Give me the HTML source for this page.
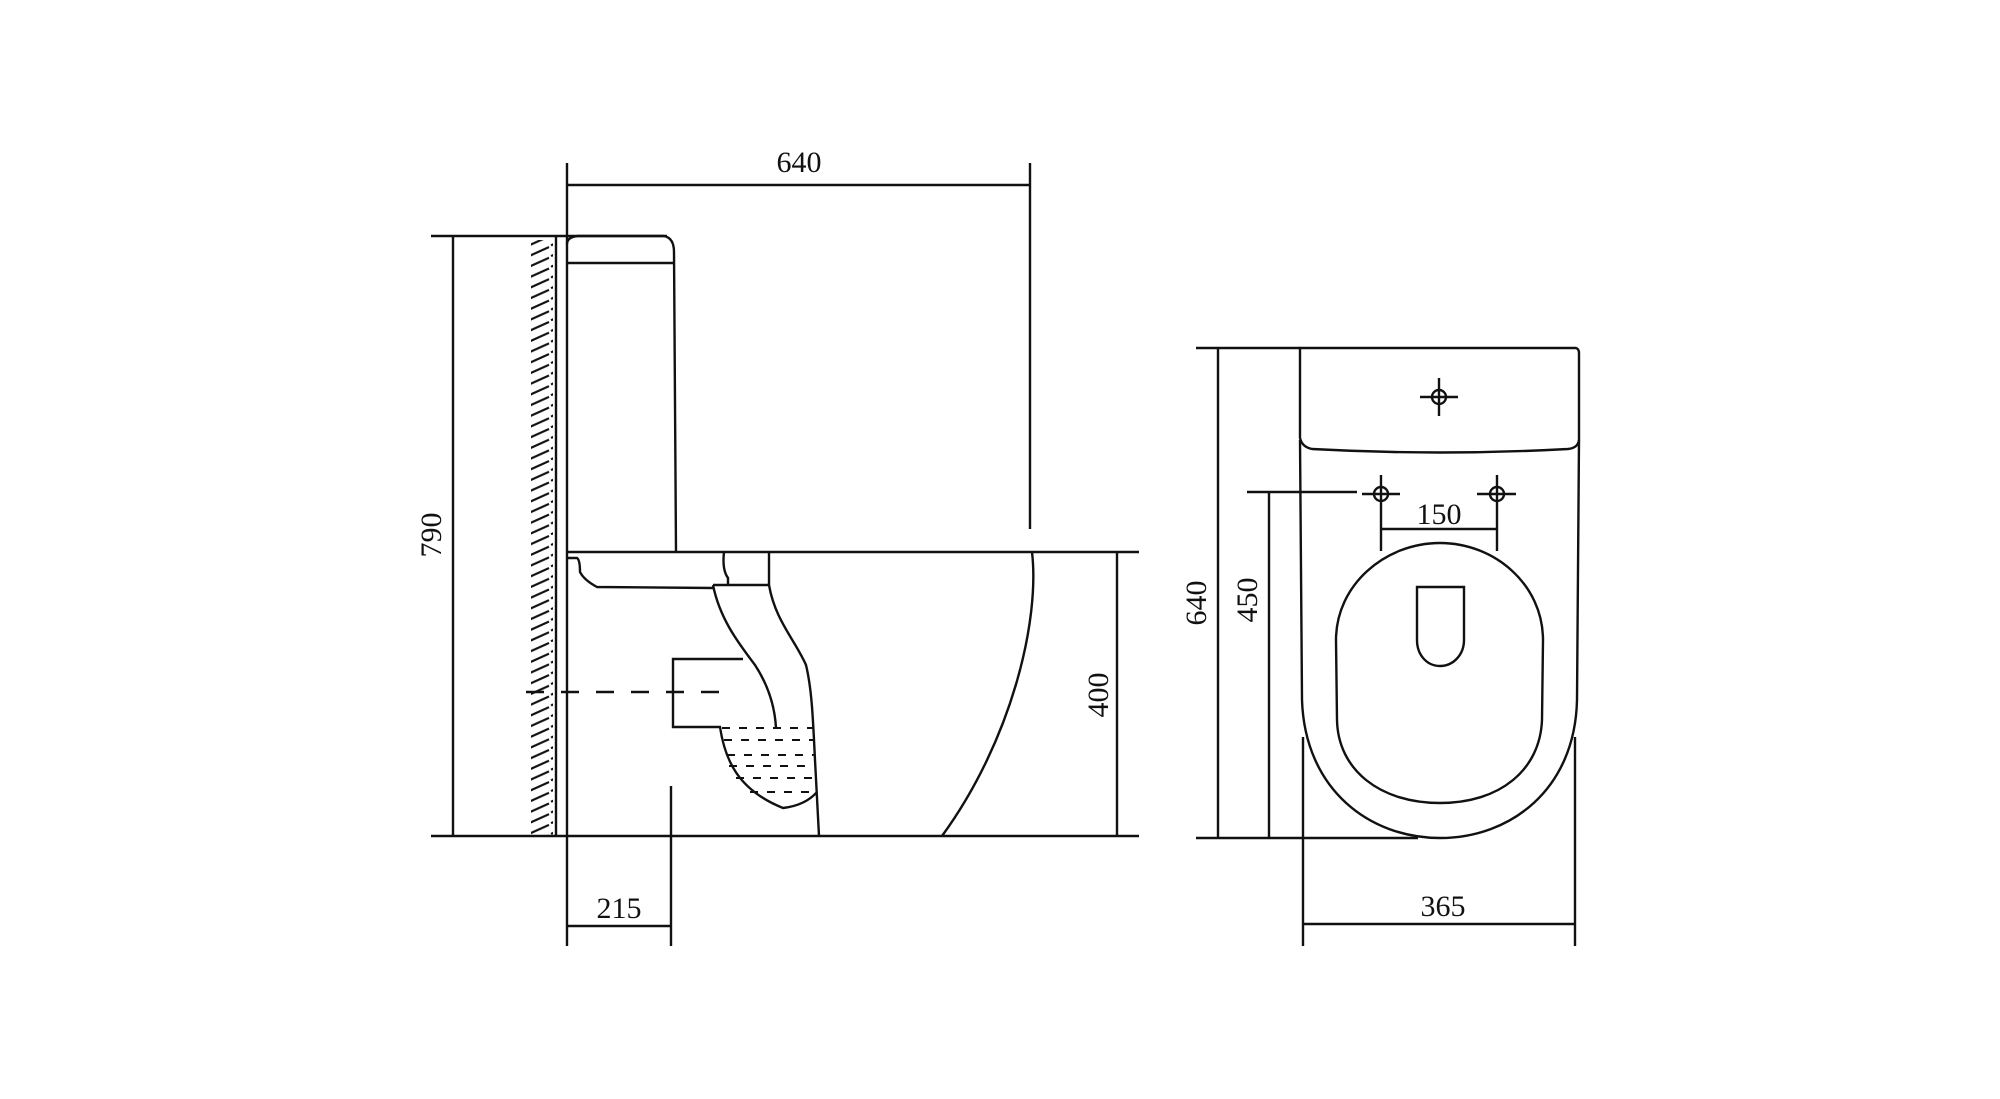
<!DOCTYPE html>
<html><head><meta charset="utf-8"><style>
html,body{margin:0;padding:0;background:#fff}
svg{display:block}
text{font-family:"Liberation Serif",serif;font-size:30px;fill:#111}
</style></head><body>
<svg width="2000" height="1099" viewBox="0 0 2000 1099" xmlns="http://www.w3.org/2000/svg">
<defs>
<pattern id="h" width="22" height="10.7" patternUnits="userSpaceOnUse">
<line x1="1" y1="10" x2="21" y2="1" stroke="#111" stroke-width="2.2"/>
</pattern>
</defs>
<g fill="none" stroke="#111" stroke-width="2.4">
<line x1="567" y1="163" x2="567" y2="946"/>
<line x1="567" y1="185" x2="1030" y2="185"/>
<line x1="1030" y1="163" x2="1030" y2="529"/>
<line x1="431" y1="236" x2="667" y2="236"/>
<line x1="453" y1="236" x2="453" y2="836"/>
<line x1="431" y1="836" x2="1139" y2="836"/>
<line x1="567" y1="552" x2="1139" y2="552"/>
<line x1="1117" y1="552" x2="1117" y2="836"/>
<line x1="671" y1="786" x2="671" y2="946"/>
<line x1="567" y1="926" x2="671" y2="926"/>
<rect x="531" y="240" width="22" height="596" fill="url(#h)" stroke="none"/>
<line x1="556" y1="236" x2="556" y2="836"/>
<path d="M567 244 Q567 237 578 236 L664 236 Q674 238 674 252 L676 552"/>
<line x1="567" y1="263" x2="674" y2="263"/>
<path d="M568 558 L577 558 Q580 560 580 572 Q584 580 597 587 L713 588"/>
<path d="M724 552 Q722 570 728 578 L728 586"/>
<line x1="713" y1="585" x2="769" y2="585"/>
<line x1="769" y1="552" x2="769" y2="585"/>
<path d="M713 585 C720 620 740 645 755 665 C770 688 775 710 776 728"/>
<path d="M769 585 C775 620 795 640 806 665 C812 690 813 720 815 760 L819 836"/>
<path d="M743 659 L673 659 L673 727 L720 727 C725 760 738 790 783 808 C800 806 810 800 817 792"/>
<line x1="526" y1="692" x2="724" y2="692" stroke-dasharray="18,17"/>
<g stroke-dasharray="8,9" stroke-width="2">
<line x1="722" y1="728" x2="814" y2="728"/>
<line x1="724" y1="740" x2="814" y2="740"/>
<line x1="727" y1="755" x2="814" y2="755"/>
<line x1="729" y1="766" x2="814" y2="766"/>
<line x1="736" y1="778" x2="816" y2="778"/>
<line x1="750" y1="792" x2="816" y2="792"/>
</g>
<path d="M1032 552 C1040 620 1012 740 942 836"/>
<line x1="1196" y1="348" x2="1300" y2="348"/>
<line x1="1218" y1="348" x2="1218" y2="838"/>
<line x1="1196" y1="838" x2="1418" y2="838"/>
<line x1="1269" y1="492" x2="1269" y2="838"/>
<line x1="1247" y1="492" x2="1357" y2="492"/>
<path d="M1300 348 L1576 348 Q1579 349 1579 353 L1579 440 Q1578 448 1568 449 Q1440 456 1312 449 Q1302 447 1300 438 Z"/>
<path d="M1300 440 L1302 700 C1305 790 1370 838 1440 838 C1510 838 1575 790 1577 700 L1579 440"/>
<path d="M1336 640 C1336 585 1385 543 1440 543 C1495 543 1543 585 1543 640 L1542 720 C1540 770 1500 803 1440 803 C1380 803 1338 770 1337 720 Z"/>
<path d="M1417 587 L1464 587 L1464 640 C1464 655 1453 666 1440 666 C1427 666 1417 655 1417 640 Z"/>
<circle cx="1439" cy="397" r="7"/>
<line x1="1420" y1="397" x2="1458" y2="397"/>
<line x1="1439" y1="378" x2="1439" y2="416"/>
<circle cx="1381" cy="494" r="7"/>
<line x1="1362" y1="494" x2="1400" y2="494"/>
<line x1="1381" y1="475" x2="1381" y2="551"/>
<circle cx="1497" cy="494" r="7"/>
<line x1="1477" y1="494" x2="1516" y2="494"/>
<line x1="1497" y1="475" x2="1497" y2="551"/>
<line x1="1381" y1="529" x2="1497" y2="529"/>
<line x1="1303" y1="737" x2="1303" y2="946"/>
<line x1="1575" y1="737" x2="1575" y2="946"/>
<line x1="1303" y1="924" x2="1575" y2="924"/>
</g>
<text x="799" y="172" text-anchor="middle">640</text>
<text transform="translate(441,535) rotate(-90)" text-anchor="middle">790</text>
<text transform="translate(1108,695) rotate(-90)" text-anchor="middle">400</text>
<text x="619" y="918" text-anchor="middle">215</text>
<text transform="translate(1206,603) rotate(-90)" text-anchor="middle">640</text>
<text transform="translate(1257,600) rotate(-90)" text-anchor="middle">450</text>
<text x="1439" y="524" text-anchor="middle">150</text>
<text x="1443" y="916" text-anchor="middle">365</text>
</svg>
</body></html>
